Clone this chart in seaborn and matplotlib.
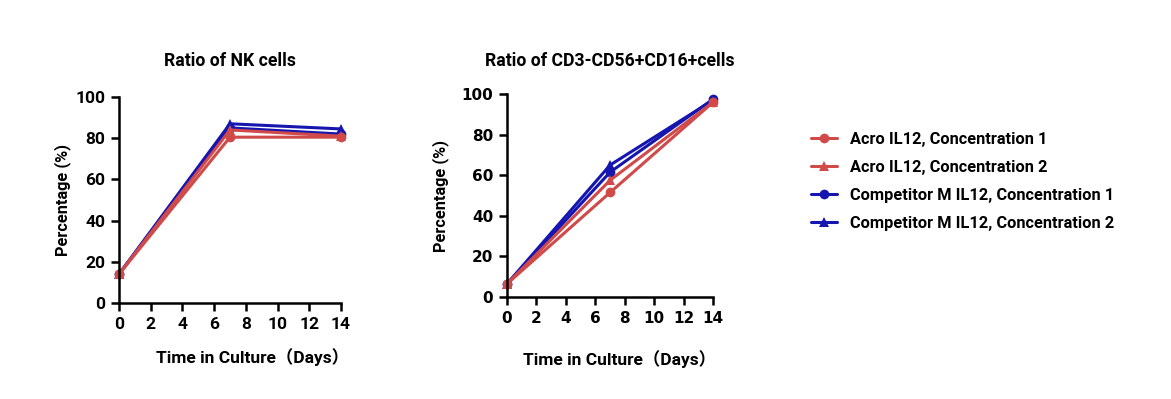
import numpy as np
import pandas as pd
import seaborn as sns
import matplotlib
matplotlib.use("Agg")
import matplotlib.pyplot as plt
from matplotlib.lines import Line2D

# data
days = [0, 7, 14]
groups = ["Acro IL12, Concentration 1", "Acro IL12, Concentration 2",
          "Competitor M IL12, Concentration 1", "Competitor M IL12, Concentration 2"]
nk_acro_c1 = [14.0, 80.5, 80.5]
nk_acro_c2 = [14.0, 84.0, 81.0]
nk_comp_c1 = [14.0, 85.0, 82.0]
nk_comp_c2 = [14.0, 87.0, 84.5]
cd_acro_c1 = [6.5, 51.5, 96.0]
cd_acro_c2 = [6.5, 57.5, 96.0]
cd_comp_c1 = [6.5, 61.5, 97.5]
cd_comp_c2 = [6.5, 65.0, 97.0]

red = "#D04A4A"
blue = "#1515B0"
palette = {groups[0]: red, groups[1]: red, groups[2]: blue, groups[3]: blue}
markers = {groups[0]: "o", groups[1]: "^", groups[2]: "o", groups[3]: "^"}


def make_df(series):
    rows = []
    for g, vals in zip(groups, series):
        for d, v in zip(days, vals):
            rows.append({"Day": d, "Value": v, "Group": g})
    return pd.DataFrame(rows)


df_nk = make_df([nk_acro_c1, nk_acro_c2, nk_comp_c1, nk_comp_c2])
df_cd = make_df([cd_acro_c1, cd_acro_c2, cd_comp_c1, cd_comp_c2])

sns.set_style("ticks")
plt.rcParams["font.family"] = ["Roboto", "Noto Sans CJK SC", "DejaVu Sans"]
plt.rcParams["font.weight"] = "bold"
plt.rcParams["text.color"] = "black"
plt.rcParams["axes.labelcolor"] = "black"
plt.rcParams["xtick.color"] = "black"
plt.rcParams["ytick.color"] = "black"

fig = plt.figure(figsize=(11.71, 3.99), dpi=100)
ax1 = fig.add_axes([0.1016, 0.2406, 0.1896, 0.5163])
ax2 = fig.add_axes([0.433, 0.2556, 0.176, 0.5088])

draw_order = [groups[3], groups[2], groups[1], groups[0]]

for ax, df, title, lab_xy, tick_fam, tick_size, tpad in [
    (ax1, df_nk, "Ratio of NK cells", (0.6, -0.22), "Roboto", 12.5, 22),
    (ax2, df_cd, "Ratio of CD3-CD56+CD16+cells", (0.544, -0.26), "DejaVu Sans", 11, 20),
]:
    sns.lineplot(data=df, x="Day", y="Value", hue="Group", style="Group",
                 hue_order=draw_order, style_order=draw_order,
                 palette=palette, markers=markers, dashes=False,
                 markersize=7, markeredgewidth=0, linewidth=2.2,
                 legend=False, ax=ax, clip_on=False)
    ax.set_xlim(0, 14)
    ax.set_ylim(0, 100)
    ax.set_xticks(range(0, 15, 2))
    ax.set_yticks(range(0, 101, 20))
    sns.despine(ax=ax)
    for s in ["left", "bottom"]:
        ax.spines[s].set_linewidth(1.8)
        ax.spines[s].set_color("black")
    ax.tick_params(width=1.8, length=6, color="black", pad=4)
    for t in ax.get_xticklabels() + ax.get_yticklabels():
        t.set_fontweight("bold")
        t.set_family(tick_fam)
        t.set_fontsize(tick_size)
    ax.set_title(title, fontsize=12.7, fontweight="bold", pad=tpad)
    ax.set_xlabel("Time in Culture（Days）", fontsize=12.5, fontweight="bold")
    ax.xaxis.set_label_coords(*lab_xy)
    ax.set_ylabel("Percentage (%)", fontsize=11.8, fontweight="bold")

ax1.yaxis.set_label_coords(-0.215, 0.5)
ax2.yaxis.set_label_coords(-0.28, 0.5)

handles = [Line2D([0], [0], color=palette[g], marker=markers[g], markersize=7,
                  markeredgewidth=0, linewidth=2.2) for g in groups]
fig.legend(handles, groups, loc="upper left", bbox_to_anchor=(0.68, 0.707),
           frameon=False, handlelength=1.6, handletextpad=0.8,
           labelspacing=0.8, prop={"size": 11.8, "weight": "bold"})

fig.savefig("out.png", dpi=100)
